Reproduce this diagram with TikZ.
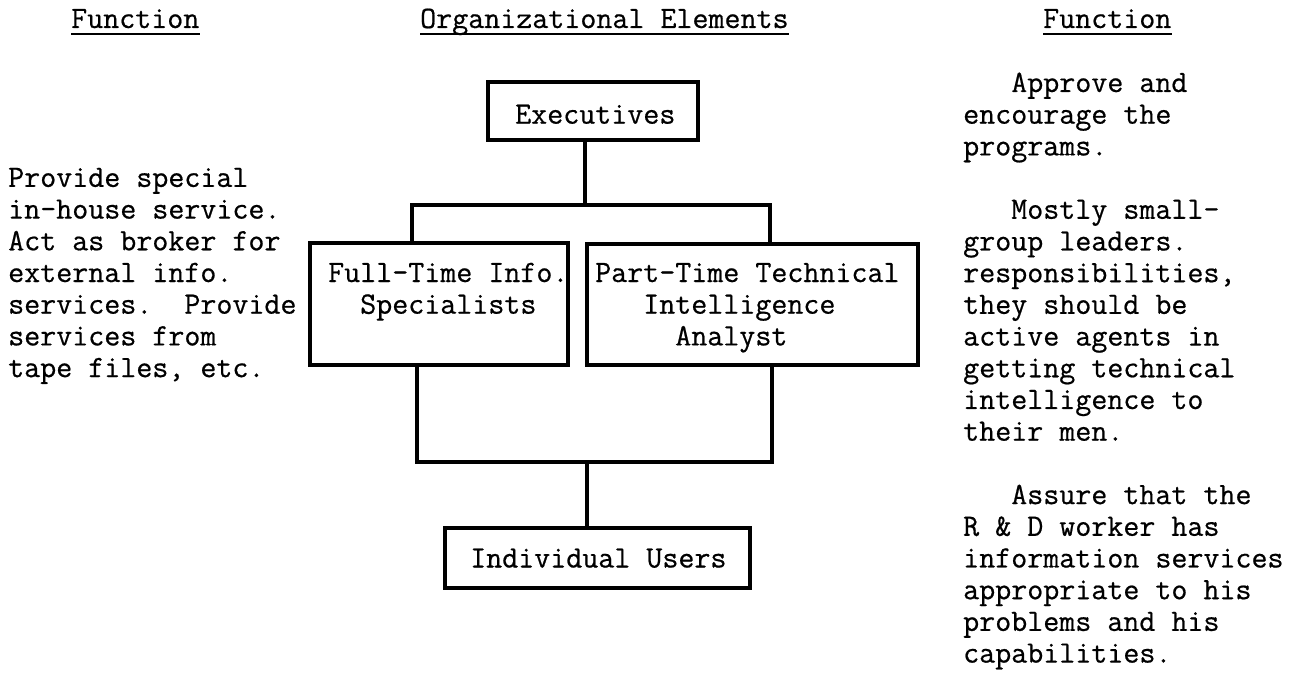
\documentclass[tikz,border=0pt]{standalone}
\usepackage{fontspec}
\newfontfamily\heavytt{lmmono12-regular}[Extension=.otf, FakeBold=0.6]
\usetikzlibrary{calc}
\begin{document}
\begin{tikzpicture}[x=1pt,y=-1pt,
  tt/.style={font=\heavytt\fontsize{31.1}{31.7}\selectfont\frenchspacing},
  boxshape/.style={draw, line width=4.5pt, inner sep=0pt},
  conn/.style={line width=4.5pt},
  txt/.style={tt, inner sep=0pt, anchor=base west},
  uline/.style={line width=2pt}]
\useasboundingbox (0,0) rectangle (1298,674);
% headers
\node[txt] (hl) at (71,28) {Function};
\node[txt] (hc) at (420,28) {Organizational Elements};
\node[txt] (hr) at (1043,28) {Function};
\draw[uline] ([yshift=-6pt]hl.base west) -- ([yshift=-6pt]hl.base east);
\draw[uline] ([yshift=-6pt]hc.base west) -- ([yshift=-6pt]hc.base east);
\draw[uline] ([yshift=-6pt]hr.base west) -- ([yshift=-6pt]hr.base east);
% boxes
\node[boxshape, minimum width=210, minimum height=58] (exec) at (593,111) {};
\node[boxshape, minimum width=258, minimum height=122] (full) at (439,304) {};
\node[boxshape, minimum width=331, minimum height=121] (part) at (752.5,304.5) {};
\node[boxshape, minimum width=305, minimum height=60] (indiv) at (597.5,558) {};
% box texts
\node[txt] (exect) at (515,123.7) {Executives};
\node[txt] (fullt) at (328,282) {\begin{tabular}[t]{@{}l@{}}Full-Time Info.\\~~Specialists\end{tabular}};
\node[txt] (partt) at (595,282) {\begin{tabular}[t]{@{}l@{}}Part-Time Technical\\~~~Intelligence\\~~~~~Analyst\end{tabular}};
\node[txt] (indivt) at (470,567.5) {Individual Users};
% connectors
\coordinate (jtop) at (585,205);
\coordinate (jbot) at (587,462);
\draw[conn] ([xshift=-8pt]exec.south) -- (jtop);
\draw[conn] ([xshift=-27pt]full.north) |- (jtop) -| ([xshift=17.5pt]part.north);
\draw[conn] ([xshift=-22pt]full.south) |- (jbot) -| ([xshift=19.5pt]part.south);
\draw[conn] (jbot) -- ([xshift=-10.5pt]indiv.north);
% left column
\node[txt] (lcol) at (8,186.9) {\begin{tabular}[t]{@{}l@{}}
Provide special\\
in-house service.\\
Act as broker for\\
external info.\\
services.~~Provide\\
services from\\
tape files, etc.
\end{tabular}};
% right column
\node[txt] (rcol) at (963,92) {\begin{tabular}[t]{@{}l@{}}
~~~Approve and\\
encourage the\\
programs.\\
\\
~~~Mostly small-\\
group leaders.\\
responsibilities,\\
they should be\\
active agents in\\
getting technical\\
intelligence to\\
their men.\\
\\
~~~Assure that the\\
R \& D worker has\\
information services\\
appropriate to his\\
problems and his\\
capabilities.
\end{tabular}};
\end{tikzpicture}
\end{document}
